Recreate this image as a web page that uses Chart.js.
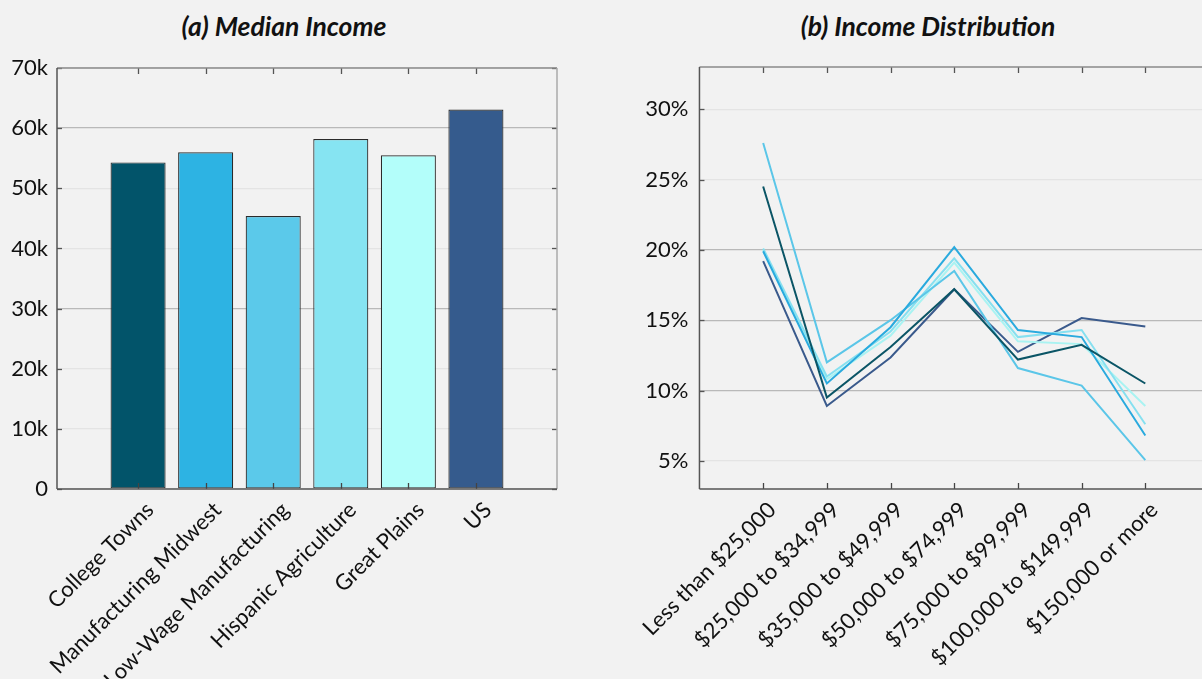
<!DOCTYPE html>
<html>
<head>
<meta charset="utf-8">
<script src="https://cdn.jsdelivr.net/npm/chart.js@4/dist/chart.umd.min.js"></script>
<style>
  html, body { margin: 0; padding: 0; background: #f2f2f2; overflow: hidden; }
  body { width: 1202px; height: 679px; position: relative; }
  .title { position: absolute; top: 10px; line-height: 32px; transform: translateX(-50%); white-space: nowrap;
           font-family: Lato, sans-serif; font-weight: bold; font-style: italic; font-size: 26.5px; color: #111; }
  canvas { position: absolute; top: 0; }
</style>
</head>
<body>
<div class="title" style="left:284px">(a) Median Income</div>
<div class="title" style="left:928px">(b) Income Distribution</div>
<canvas id="income" width="570" height="679" style="left:0"></canvas>
<canvas id="dist" width="600" height="679" style="left:620px"></canvas>
<script>
// regions and their colours
var regions = ["College Towns", "Manufacturing Midwest", "Low-Wage Manufacturing", "Hispanic Agriculture", "Great Plains", "US"];
var regionColors = ["#02546a", "#2db3e3", "#5bc9ea", "#86e4f2", "#b3fefa", "#355b8d"];
var lineColors = ["#0b5566", "#2aaade", "#5bc6e8", "#86e0f0", "#a9f3f2", "#3a5a8c"];

// (a) median household income
var medianIncome = [54300, 56000, 45400, 58200, 55500, 63100];
var incomeTicks = [0, 10000, 20000, 30000, 40000, 50000, 60000, 70000];

// (b) share of households per income bracket, %
var brackets = ["Less than $25,000", "$25,000 to $34,999", "$35,000 to $49,999", "$50,000 to $74,999",
                "$75,000 to $99,999", "$100,000 to $149,999", "$150,000 or more"];
var collegeTowns = [24.5, 9.5, 13.1, 17.2, 12.2, 13.25, 10.5];
var manufacturingMidwest = [19.9, 10.5, 14.5, 20.2, 14.3, 13.8, 6.8];
var lowWageManufacturing = [27.6, 12.0, 15.0, 18.5, 11.6, 10.35, 5.05];
var hispanicAgriculture = [20.1, 11.0, 14.2, 19.4, 13.8, 14.3, 7.6];
var greatPlains = [20.0, 10.8, 13.9, 19.1, 13.5, 13.3, 8.9];
var usShares = [19.2, 8.9, 12.35, 17.2, 12.75, 15.15, 14.55];
var shareTicks = [5, 10, 15, 20, 25, 30];

var font = { family: "Lato, sans-serif", size: 22 };

// box round the plot area with inward tick marks on all four sides
var framePlugin = {
    id: 'frame',
    afterDatasetsDraw: function(chart) {
        var ctx = chart.ctx, a = chart.chartArea, x = chart.scales.x, y = chart.scales.y;
        var seg = function(x1, y1, x2, y2, c) {
            ctx.strokeStyle = c;
            ctx.beginPath(); ctx.moveTo(x1, y1); ctx.lineTo(x2, y2); ctx.stroke();
        };
        ctx.save();
        ctx.lineWidth = 1.3;
        x.ticks.forEach(function(t) {
            var px = Math.round(x.getPixelForValue(t.value)) + 0.5;
            seg(px, a.bottom, px, a.bottom - 6, '#444');
            seg(px, a.top, px, a.top + 6, '#555');
        });
        y.ticks.forEach(function(t) {
            var py = Math.round(y.getPixelForValue(t.value)) + 0.5;
            seg(a.left, py, a.left + 5, py, '#555');
            seg(a.right, py, a.right - 5, py, '#555');
        });
        ctx.lineWidth = 1.5;
        seg(a.left, a.top, a.right, a.top, '#8a8a8a');
        seg(a.right, a.top, a.right, a.bottom, '#aaaaaa');
        seg(a.left, a.bottom, a.right, a.bottom, '#555');
        seg(a.left, a.top, a.left, a.bottom, '#555');
        ctx.restore();
    }
};

function gridColor(strong) {
    return function(c) {
        return strong.indexOf(c.tick.value) >= 0 ? '#b9b9b9' : '#e4e4e4';
    };
}

function categoryAxis(labels, min, max, height, shift) {
    return {
        type: 'linear', min: min, max: max, bounds: 'data', offset: false,
        afterDataLimits: function(s) { s.min = min; s.max = max; },
        afterBuildTicks: function(s) { s.ticks = labels.map(function(l, i) { return { value: i }; }); },
        afterFit: function(s) { s.height = height; },
        grid: { display: false, drawTicks: false, offset: false },
        border: { display: false },
        ticks: {
            font: font, color: '#111', padding: 8, autoSkip: false,
            minRotation: 45, maxRotation: 45, labelOffset: shift,
            callback: function(v) { return labels[v]; }
        }
    };
}

new Chart(document.getElementById('income'), {
    type: 'bar',
    data: {
        datasets: [{
            data: medianIncome.map(function(v, i) { return { x: i, y: v }; }),
            backgroundColor: regionColors,
            borderColor: '#2b2b2b',
            borderWidth: 1.2,
            borderSkipped: false,
            categoryPercentage: 1,
            barPercentage: 0.815
        }]
    },
    options: {
        responsive: false, animation: false,
        layout: { padding: { top: 68, right: 13, left: 0, bottom: 0 } },
        plugins: { legend: { display: false }, tooltip: { enabled: false } },
        scales: {
            x: categoryAxis(regions, -1.2, regions.length + 0.2, 190, 12),
            y: {
                min: 0, max: 70000,
                afterBuildTicks: function(s) { s.ticks = incomeTicks.map(function(v) { return { value: v }; }); },
                afterFit: function(s) { s.width = 57; },
                border: { display: false },
                grid: { drawTicks: false, color: gridColor([30000, 60000]), lineWidth: 1.3 },
                ticks: {
                    font: font, color: '#111', padding: 9,
                    callback: function(v) { return v === 0 ? '0' : (v / 1000) + 'k'; }
                }
            }
        }
    },
    plugins: [framePlugin]
});

var shareSeries = [collegeTowns, manufacturingMidwest, lowWageManufacturing, hispanicAgriculture, greatPlains, usShares];

new Chart(document.getElementById('dist'), {
    type: 'line',
    data: {
        datasets: shareSeries.map(function(s, k) {
            return {
                label: regions[k],
                data: s.map(function(v, i) { return { x: i, y: v }; }),
                borderColor: lineColors[k],
                borderWidth: 2,
                pointRadius: 0,
                tension: 0,
                fill: false
            };
        })
    },
    options: {
        responsive: false, animation: false,
        layout: { padding: { top: 67, right: 11, left: 0, bottom: 0 } },
        plugins: { legend: { display: false }, tooltip: { enabled: false } },
        scales: {
            x: categoryAxis(brackets, -1, brackets.length, 190, 9),
            y: {
                min: 3, max: 33,
                afterBuildTicks: function(s) { s.ticks = shareTicks.map(function(v) { return { value: v }; }); },
                afterFit: function(s) { s.width = 78; },
                border: { display: false },
                grid: { drawTicks: false, color: gridColor([10, 15, 20]), lineWidth: 1.3 },
                ticks: {
                    font: font, color: '#111', padding: 11,
                    callback: function(v) { return v + '%'; }
                }
            }
        }
    },
    plugins: [framePlugin]
});
</script>
</body>
</html>
